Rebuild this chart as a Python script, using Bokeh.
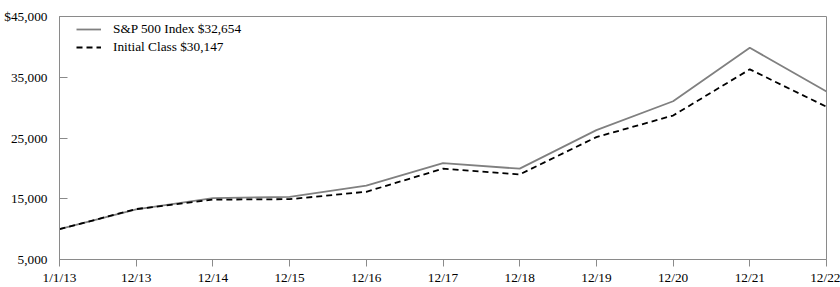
from bokeh.plotting import figure
from bokeh.models import Range1d, FixedTicker, Legend, LegendItem, ColumnDataSource
from bokeh.embed import file_html
from bokeh.resources import INLINE

# ---- data ----
x_labels = ["1/1/13", "12/13", "12/14", "12/15", "12/16", "12/17",
            "12/18", "12/19", "12/20", "12/21", "12/22"]
sp500 = [10000, 13240, 15100, 15300, 17150, 20850, 19950, 26300, 31050, 39850, 32654]
initial_class = [10000, 13300, 14850, 14930, 16150, 19950, 19000, 25150, 28700, 36300, 30147]
y_ticks = [5000, 15000, 25000, 35000, 45000]
y_tick_labels = ["5,000", "15,000", "25,000", "35,000", "$45,000"]
series_names = ["S&P 500 Index $32,654", "Initial Class $30,147"]

FONT = "Liberation Serif"
GRAY = "#8a8a8a"
FSIZE = "13.3px"

xs = list(range(len(x_labels)))
src = ColumnDataSource(dict(x=xs, sp=sp500, ic=initial_class))

p = figure(width=840, height=287, output_backend="svg", toolbar_location=None,
           x_range=Range1d(0, len(x_labels) - 1), y_range=Range1d(5000, 45000),
           min_border_left=59, min_border_right=14, min_border_top=16,
           min_border_bottom=28)

p.xgrid.visible = False
p.ygrid.visible = False
p.outline_line_color = GRAY
p.outline_line_width = 1
p.background_fill_color = "white"
p.border_fill_color = "white"

r1 = p.line("x", "sp", source=src, line_color="#808080", line_width=1.8)
r2 = p.line("x", "ic", source=src, line_color="black", line_width=1.8, line_dash="6 4")

# x axis
p.xaxis.ticker = FixedTicker(ticks=xs)
p.xaxis.major_label_overrides = {i: lab for i, lab in zip(xs, x_labels)}
p.xaxis.minor_tick_line_color = None
p.xaxis.major_tick_in = 0
p.xaxis.major_tick_out = 7
p.xaxis.major_label_standoff = 3
p.xaxis.axis_line_color = GRAY
p.xaxis.major_tick_line_color = GRAY

# y axis
p.yaxis.ticker = FixedTicker(ticks=y_ticks)
p.yaxis.major_label_overrides = {t: lab for t, lab in zip(y_ticks, y_tick_labels)}
p.yaxis.minor_tick_line_color = None
p.yaxis.major_tick_in = 8
p.yaxis.major_tick_out = 0
p.yaxis.major_label_standoff = 12
p.yaxis.axis_line_color = GRAY
p.yaxis.major_tick_line_color = GRAY

for ax in (p.xaxis, p.yaxis):
    ax.major_label_text_font = FONT
    ax.major_label_text_font_size = FSIZE
    ax.major_label_text_color = "black"

legend = Legend(items=[LegendItem(label=series_names[0], renderers=[r1]),
                       LegendItem(label=series_names[1], renderers=[r2])],
                location=(17, 203), margin=0, padding=0, spacing=0,
                glyph_width=25, glyph_height=18, label_height=18,
                label_standoff=12, border_line_color=None,
                background_fill_alpha=0,
                label_text_font=FONT, label_text_font_size=FSIZE,
                label_text_color="black")
p.add_layout(legend, "center")

open("out.html", "w").write(file_html(p, INLINE))
